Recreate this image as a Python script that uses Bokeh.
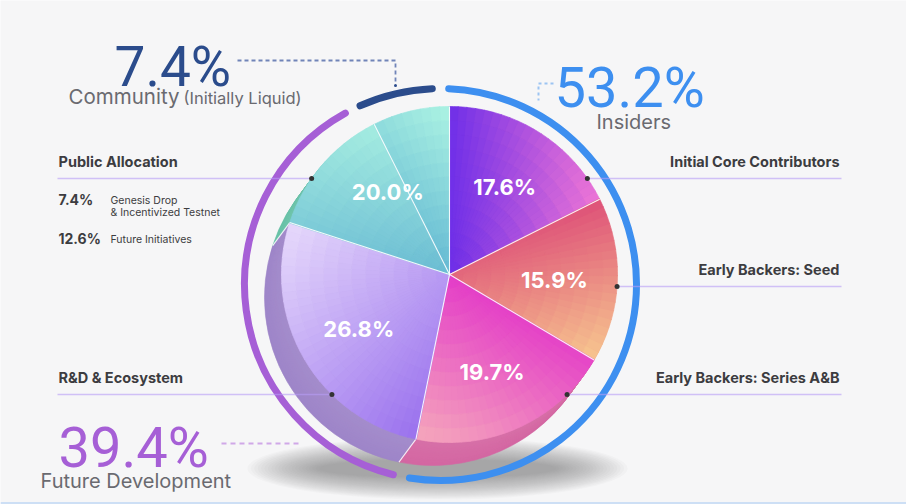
import math
from bokeh.plotting import figure
from bokeh.models import Range1d
from bokeh.core.properties import value
from bokeh.embed import file_html
from bokeh.resources import INLINE

# ---------------- data ----------------
slice_names = ["Initial Core Contributors", "Early Backers: Seed", "Early Backers: Series A&B",
               "R&D & Ecosystem", "Future Initiatives", "Genesis Drop"]
slice_values = [17.6, 15.9, 19.7, 26.8, 12.6, 7.4]
label_values = [17.6, 15.9, 19.7, 26.8, 20.0]          # numbers printed on the pie
label_spans = [(0, 1), (1, 2), (2, 3), (3, 4), (4, 6)]  # slices each printed number covers
group_names = ["Insiders", "Future Development", "Community"]
group_values = [53.2, 39.4, 7.4]
public_values = [7.4, 12.6]
public_names = [["Genesis Drop", "& Incentivized Testnet"], ["Future Initiatives"]]

# ---------------- styles ----------------
W, H = 906, 504
BG = "#f6f6f7"
top_grad = [  # (direction, start colour, end colour)
    ((1.0, 0.0), "#6f2fe8", "#e872d6"),
    ((0.3, -1.0), "#df5579", "#f6c18e"),
    ((-0.5, -1.0), "#e43ec8", "#f4a2bc"),
    ((1.0, -1.0), "#e4d6fb", "#9c74ee"),
    ((0.0, -1.0), "#a2eae0", "#6cbdd4"),
    ((-0.7, -1.0), "#a8f0e2", "#68bcd4"),
]
side_cols = ["#5a24b0", "#d87a78", "#d2609e", "#9a80c6", "#62bfa4", "#5aaebf"]
group_cols = ["#3d8ff0", "#a65fd6", "#2b4c8c"]


def Y(v):
    return H - v


def hex2rgb(h):
    h = h.lstrip("#")
    return [int(h[i:i + 2], 16) for i in (0, 2, 4)]


def mix(c0, c1, t):
    a, b = hex2rgb(c0), hex2rgb(c1)
    return "#%02x%02x%02x" % tuple(int(round(a[i] + (b[i] - a[i]) * t)) for i in range(3))


p = figure(width=W, height=H, x_range=Range1d(0, W), y_range=Range1d(0, H),
           output_backend="svg", toolbar_location=None, min_border=0,
           x_axis_type=None, y_axis_type=None,
           background_fill_color=BG, border_fill_color=BG, outline_line_color=None)
p.grid.visible = False


def label(x, baseline, txt, size, color="#3c3c40", font="Inter", bold=False, align="left"):
    # baseline given in image pixels; small empirical correction for the renderer's baseline
    yb = Y(baseline) + 0.23 * size + 3
    p.text(x=[x], y=[yb], text=[txt], text_font=value(font), text_font_size="%.1fpx" % size,
           text_font_style="bold" if bold else "normal", text_color=color,
           text_align=align, text_baseline="alphabetic")


# bottom frame edge
p.line([0, W], [1, 1], line_color="#cddff5", line_width=3)

# ---------------- geometry ----------------
PX, PY, R = 449, Y(274), 168          # top surface of pie
DX, DY = -17, -23                      # extrusion offset (side)
RX, RY, RR = 440, Y(284), 196          # outer ring

total = sum(slice_values)
cum = [0.0]
for v in slice_values:
    cum.append(cum[-1] + v)


def ang(c):  # cumulative percent -> degrees (clockwise from top)
    return 90.0 - c / total * 360.0


# soft shadow
NS = 22
for k in range(NS):
    f = 1 - k / float(NS)
    p.ellipse(x=437, y=Y(468), width=230 + 150 * f, height=16 + 46 * f,
              fill_color="#6c6c78", fill_alpha=0.035, line_color=None)

# outer ring arcs
gcum = 0.0
gtot = sum(group_values)
inset = 2.4
for gv, gc in zip(group_values, group_cols):
    a0 = 90 - gcum / gtot * 360 - inset
    a1 = 90 - (gcum + gv) / gtot * 360 + inset
    p.arc(x=RX, y=RY, radius=RR, start_angle=math.radians(a0), end_angle=math.radians(a1),
          direction="clock", line_color=gc, line_width=7, line_cap="round")
    gcum += gv

# side (extrusion) layers
NL = 14
sx, sy, ss, se, sc = [], [], [], [], []
for k in range(NL, 0, -1):
    t = k / NL
    for i in range(len(slice_values)):
        sx.append(PX + DX * t)
        sy.append(PY + DY * t)
        ss.append(math.radians(ang(cum[i + 1])))
        se.append(math.radians(ang(cum[i])))
        shade = 0.12 * t
        sc.append(mix(side_cols[i], "#ffffff", 0.10 - shade * 0.5))
p.wedge(x=sx, y=sy, radius=R, start_angle=ss, end_angle=se, direction="anticlock",
        fill_color=sc, line_color=sc, line_width=0.6)

# side boundary edges (only where the side is visible)
for c in cum[:-1]:
    a = math.radians(ang(c))
    if DX * math.cos(a) + DY * math.sin(a) > 0:
        x0, y0 = PX + R * math.cos(a), PY + R * math.sin(a)
        p.line([x0, x0 + DX], [y0, y0 + DY], line_color="white", line_width=1.1, line_alpha=0.85)

# top surface with gradient cells
cx, cy, ci, co, cs, ce, cc = [], [], [], [], [], [], []
NR = 12
for i in range(len(slice_values)):
    a_lo, a_hi = ang(cum[i + 1]), ang(cum[i])
    na = max(6, int((a_hi - a_lo) / 3))
    (dx, dy), c0, c1 = top_grad[i]
    n = math.hypot(dx, dy)
    dx, dy = dx / n, dy / n
    cells = []
    for j in range(na):
        b0 = a_lo + (a_hi - a_lo) * j / na
        b1 = a_lo + (a_hi - a_lo) * (j + 1) / na
        bm = math.radians((b0 + b1) / 2)
        for m in range(NR):
            r0, r1 = R * m / NR, R * (m + 1) / NR
            rm = (r0 + r1) / 2
            proj = rm * math.cos(bm) * dx + rm * math.sin(bm) * dy
            cells.append((b0, b1, r0, r1, proj))
    pmin = min(c[4] for c in cells)
    pmax = max(c[4] for c in cells)
    for b0, b1, r0, r1, pr in cells:
        col = mix(c0, c1, (pr - pmin) / (pmax - pmin))
        cx.append(PX); cy.append(PY)
        ci.append(r0); co.append(r1)
        cs.append(math.radians(b0)); ce.append(math.radians(b1 + 0.15))
        cc.append(col)
p.annular_wedge(x=cx, y=cy, inner_radius=ci, outer_radius=co, start_angle=cs, end_angle=ce,
                direction="anticlock", fill_color=cc, line_color=cc, line_width=0.7)

# white separators on top surface
for c in cum[:-1]:
    a = math.radians(ang(c))
    p.line([PX, PX + R * math.cos(a)], [PY, PY + R * math.sin(a)],
           line_color="white", line_width=1.1, line_alpha=0.9)

# numbers on slices
lx, ly, lt = [], [], []
for v, (s0, s1) in zip(label_values, label_spans):
    am = math.radians((ang(cum[s0]) + ang(cum[s1])) / 2)
    lx.append(PX + 105 * math.cos(am))
    ly.append(PY + 105 * math.sin(am) - 2)
    lt.append("%.1f%%" % v)
p.text(x=lx, y=ly, text=lt, text_color="white", text_font=value("Inter"),
       text_font_style="bold", text_font_size="22px", text_align="center",
       text_baseline="middle")

# ---------------- callout lines ----------------
LEFT_X, RIGHT_X = 57, 841
callouts = [  # (text, side, line y in image px)
    (slice_names[0], "right", 178),
    (slice_names[1], "right", 286),
    (slice_names[2], "right", 394),
    ("R&D & Ecosystem", "left", 394),
    ("Public Allocation", "left", 178),
]
for txt, side, ly_img in callouts:
    yy = Y(ly_img)
    half = math.sqrt(R * R - (yy - PY) ** 2)
    if side == "right":
        dxp = PX + half
        p.line([dxp, RIGHT_X], [yy, yy], line_color="#b79cf5", line_width=1.3, line_alpha=0.6)
        label(RIGHT_X - 2, ly_img - 10.5, txt, 14.5, bold=True, align="right")
    else:
        dxp = PX - half
        p.line([LEFT_X, dxp], [yy, yy], line_color="#b79cf5", line_width=1.3, line_alpha=0.6)
        label(LEFT_X + 1, ly_img - 10.5, txt, 14.5, bold=True, align="left")
    p.scatter(x=[dxp], y=[yy], size=5, fill_color="#333333", line_color=None)

# public allocation breakdown
for v, names, base in zip(public_values, public_names, [205, 244]):
    label(58, base, "%.1f%%" % v, 14, bold=True)
    for k, nm in enumerate(names):
        label(110, base + 12.5 * k, nm, 10.5)

# ---------------- big group figures ----------------
label(114, 82, "%.1f%%" % group_values[2], 55, color=group_cols[2], font="Roboto")
label(68, 104, group_names[2], 20.5, color="#6a6a70")
label(183, 104, "(Initially Liquid)", 16.5, color="#6a6a70")

label(554, 103, "%.1f%%" % group_values[0], 56, color=group_cols[0], font="Roboto")
label(596, 129, group_names[0], 20, color="#6a6a70")

label(58, 463, "%.1f%%" % group_values[1], 56, color=group_cols[1], font="Roboto")
label(40, 488, group_names[1], 20, color="#6a6a70")

# dashed connectors
p.line([237, 395, 395], [Y(60), Y(60), Y(84)], line_color="#7084b8", line_width=1.8,
       line_dash="4 3")
p.scatter(x=[395], y=[Y(85)], size=3, fill_color="#2b4c8c", line_color=None)
p.line([553, 538, 538], [Y(83), Y(83), Y(100)], line_color="#9cc4f2", line_width=2,
       line_dash="3 3")
p.line([221, 300], [Y(443), Y(443)], line_color="#d0a8e8", line_width=2, line_dash="5 4")

open("out.html", "w").write(file_html(p, INLINE))
